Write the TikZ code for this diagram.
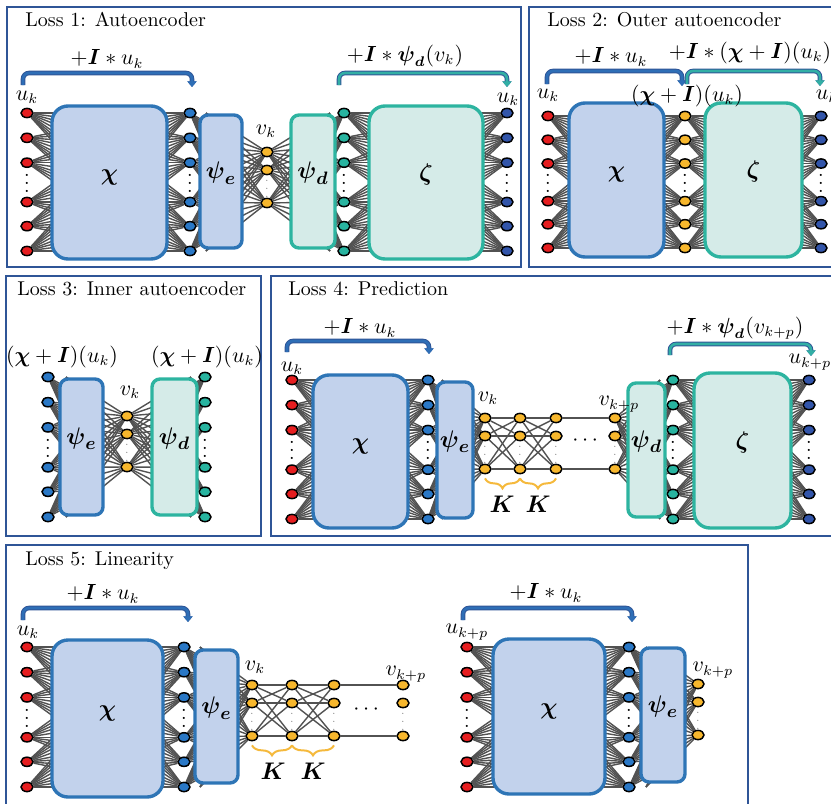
\documentclass[tikz,border=0pt]{standalone}
\usepackage{amsmath,amssymb}
\usepackage{tikz}
\usetikzlibrary{arrows.meta, positioning, calc, decorations.pathreplacing, shapes.geometric, fit}
\usepackage{xcolor}

\definecolor{redn}{RGB}{230,30,32}
\definecolor{bluen}{RGB}{42,120,198}
\definecolor{yelln}{RGB}{247,183,45}
\definecolor{tealn}{RGB}{40,180,160}
\definecolor{navyn}{RGB}{50,85,170}
\definecolor{linkc}{RGB}{82,82,82}
\definecolor{paneld}{RGB}{47,85,151}
\definecolor{encd}{RGB}{46,117,182}
\definecolor{encf}{RGB}{194,210,236}
\definecolor{decd}{RGB}{45,180,160}
\definecolor{decf}{RGB}{213,235,232}
\definecolor{skipc}{RGB}{46,110,182}
\definecolor{skipt}{RGB}{50,175,165}
\definecolor{bracec}{RGB}{245,185,60}

\pgfdeclarelayer{bg}
\pgfsetlayers{bg,main}

% six units of a wide layer, dots between the third and the fourth
\newcommand{\widecol}[5]{%
  \foreach \i/\f in {1/0,2/.18,3/.36,4/.645,5/.82,6/1}
    \node[neuron, fill=#5] (#1\i) at (#2,{#3+(#4-#3)*\f}) {};
  \node[bigdots] (#1d) at (#2,{#3+(#4-#3)*.5-5}) {$\vdots$};
}
% three units of the latent layer
\newcommand{\latcol}[3]{%
  \foreach \i/\dy in {1/0,2/18,3/51}
    \node[neuron, fill=yelln] (#1\i) at (#2,{#3+\dy}) {};
  \node[smalldots] (#1d) at (#2,{#3+31}) {$\vdots$};
}
% hidden units inside a box, where the links end
\newcommand{\hidcol}[4]{%
  \foreach \i/\f in {1/0,2/.12,3/.24,4/.36,5/.5,6/.645,7/.76,8/.88,9/1}
    \coordinate (#1\i) at (#2,{#3+(#4-#3)*\f});
}
% every link from one layer to the next
\newcommand{\links}[4]{%
  \foreach \i in {1,...,#2}
    \foreach \j in {1,...,#4}
      \draw[nlink] (#1\i) -- (#3\j);
}

\begin{document}
\begin{tikzpicture}[x=0.5pt, y=-0.5pt, font=\fontsize{10}{12}\selectfont,
  neuron/.style={ellipse, draw=black, line width=0.75pt, minimum width=6pt, minimum height=4.6pt, inner sep=0pt},
  bigdots/.style={inner sep=0pt, font=\fontsize{10}{10}\selectfont},
  smalldots/.style={inner sep=0pt, text=gray, font=\fontsize{5}{5}\selectfont},
  nlink/.style={draw=linkc, line width=0.7pt},
  encbox/.style={draw=encd, fill=encf, line width=1.7pt, inner sep=0pt, font=\fontsize{13}{15}\selectfont},
  decbox/.style={draw=decd, fill=decf, line width=1.7pt, inner sep=0pt, font=\fontsize{13}{15}\selectfont},
  bigbox/.style={rounded corners=8pt},
  thinbox/.style={rounded corners=4pt},
  panel/.style={draw=paneld, line width=1pt},
  title/.style={anchor=base west, inner sep=0pt},
  lab/.style={inner sep=0pt, font=\fontsize{10.5}{12}\selectfont},
  klab/.style={inner sep=0pt, font=\fontsize{11.5}{13}\selectfont},
  skiparrow/.style={draw=skipc, line width=1.3pt, rounded corners=3pt, -{Triangle[length=2.8pt,width=4.5pt]},
    preaction={draw=paneld, line width=2.3pt, -{Triangle[length=2.8pt,width=4.5pt]}}},
  skipteal/.style={skiparrow, draw=skipt},
  kbrace/.style={decorate, decoration={brace, mirror, amplitude=5pt}, draw=bracec, line width=1pt},
]
\useasboundingbox (0,0) rectangle (831,804);
\clip (0,0) rectangle (831,804);

% Loss 1
\draw[panel] (7,7) rectangle (521,267);
\node[title] (t1) at (25,26) {Loss 1: Autoencoder};
\widecol{p1r}{27}{113}{251}{redn}
\widecol{p1b}{190}{113}{251}{bluen}
\latcol{p1y}{267}{152}
\widecol{p1t}{344}{113}{251}{tealn}
\widecol{p1n}{507}{113}{251}{navyn}
\node[encbox, bigbox, fit={(52,106) (167,259)}] (p1chi) {$\boldsymbol{\chi}$};
\node[encbox, thinbox, fit={(200,115) (242,248)}] (p1pe) {$\boldsymbol{\psi}_{\boldsymbol{e}}$};
\node[decbox, thinbox, fit={(291,115) (335,248)}] (p1pd) {$\boldsymbol{\psi}_{\boldsymbol{d}}$};
\node[decbox, bigbox, fit={(369,106) (483,259)}] (p1zeta) {$\boldsymbol{\zeta}$};
\node[lab] (p1uin) at (27,97) {$u_k$};
\node[lab] (p1v) at (266,131) {$v_k$};
\node[lab] (p1uout) at (508,99) {$u_k$};
\coordinate (p1sa) at (23,85);
\coordinate (p1sb) at (192,87);
\coordinate (p1sc) at (339,85);
\coordinate (p1sd) at (507,87);
\draw[skiparrow] (p1sa) -- ++(0,-12) -| (p1sb);
\draw[skipteal] (p1sc) -- ++(0,-12) -| (p1sd);
\node[lab] (p1ska) at (107,59) {$+\boldsymbol{I} * u_k$};
\node[lab] (p1skb) at (405,56) {$+\boldsymbol{I} * \boldsymbol{\psi}_{\boldsymbol{d}}(v_k)$};

% Loss 2
\draw[panel] (529,7) rectangle (845,267);
\node[title] (t2) at (547,26) {Loss 2: Outer autoencoder};
\widecol{p2r}{548}{116}{248}{redn}
\widecol{p2y}{685}{116}{248}{yelln}
\widecol{p2n}{821}{116}{248}{navyn}
\node[encbox, bigbox, fit={(569,103) (664,257)}] (p2chi) {$\boldsymbol{\chi}$};
\node[decbox, bigbox, fit={(705,103) (802,257)}] (p2zeta) {$\boldsymbol{\zeta}$};
\node[lab] (p2uin) at (548,95) {$u_k$};
\node[lab] (p2mid) at (687,96) {$(\boldsymbol{\chi}+\boldsymbol{I})(u_k)$};
\node[lab] (p2uout) at (827,96) {$u_k$};
\coordinate (p2sa) at (547,84);
\coordinate (p2sb) at (682,86);
\coordinate (p2sc) at (687,84);
\coordinate (p2sd) at (820,86);
\draw[skiparrow] (p2sa) -- ++(0,-13) -| (p2sb);
\draw[skipteal] (p2sc) -- ++(0,-13) -| (p2sd);
\node[lab] (p2ska) at (611,57) {$+\boldsymbol{I} * u_k$};
\node[lab] (p2skb) at (750,53) {$+\boldsymbol{I} * (\boldsymbol{\chi}+\boldsymbol{I})(u_k)$};

% Loss 3
\draw[panel] (6,276) rectangle (261,536);
\node[title] (t3) at (17,295) {Loss 3: Inner autoencoder};
\widecol{p3b}{48}{377}{517}{bluen}
\latcol{p3y}{127}{416}
\widecol{p3t}{205}{377}{517}{tealn}
\node[encbox, thinbox, fit={(60,379) (103,515)}] (p3pe) {$\boldsymbol{\psi}_{\boldsymbol{e}}$};
\node[decbox, thinbox, fit={(152,379) (197,515)}] (p3pd) {$\boldsymbol{\psi}_{\boldsymbol{d}}$};
\node[lab] (p3in) at (62,357) {$(\boldsymbol{\chi}+\boldsymbol{I})(u_k)$};
\node[lab] (p3out) at (207,357) {$(\boldsymbol{\chi}+\boldsymbol{I})(u_k)$};
\node[lab] (p3v) at (130,392) {$v_k$};

% Loss 4
\draw[panel] (271,276) rectangle (845,536);
\node[title] (t4) at (288,295) {Loss 4: Prediction};
\widecol{p4r}{292}{380}{519}{redn}
\widecol{p4b}{428}{380}{519}{bluen}
\latcol{p4ya}{485}{418}
\latcol{p4yb}{520}{418}
\latcol{p4yc}{556}{418}
\latcol{p4yd}{615}{418}
\widecol{p4t}{673}{380}{519}{tealn}
\widecol{p4n}{809}{380}{519}{navyn}
\node[encbox, bigbox, fit={(313,375) (408,528)}] (p4chi) {$\boldsymbol{\chi}$};
\node[encbox, thinbox, fit={(437,382) (473,518)}] (p4pe) {$\boldsymbol{\psi}_{\boldsymbol{e}}$};
\node[decbox, thinbox, fit={(628,383) (665,517)}] (p4pd) {$\boldsymbol{\psi}_{\boldsymbol{d}}$};
\node[decbox, bigbox, fit={(694,373) (791,528)}] (p4zeta) {$\boldsymbol{\zeta}$};
\node[lab] (p4uin) at (292,368) {$u_k$};
\node[lab] (p4v) at (488,398) {$v_k$};
\node[lab] (p4vp) at (619,404) {$v_{k+p}$};
\node[lab] (p4uout) at (810,362) {$u_{k+p}$};
\node[lab] (p4gap) at (587,441) {$\cdots$};
\draw[kbrace] ([yshift=-2pt]p4ya3.south) -- ([yshift=-2pt]p4yb3.south);
\draw[kbrace] ([yshift=-2pt]p4yb3.south) -- ([yshift=-2pt]p4yc3.south);
\node[klab] (p4ka) at (502,504) {$\boldsymbol{K}$};
\node[klab] (p4kb) at (538,504) {$\boldsymbol{K}$};
\coordinate (p4sa) at (287,352);
\coordinate (p4sb) at (429,354);
\coordinate (p4sc) at (670,355);
\coordinate (p4sd) at (811,356);
\draw[skiparrow] (p4sa) -- ++(0,-11) -| (p4sb);
\draw[skipteal] (p4sc) -- ++(0,-11) -| (p4sd);
\node[lab] (p4ska) at (360,328) {$+\boldsymbol{I} * u_k$};
\node[lab] (p4skb) at (735,328) {$+\boldsymbol{I} * \boldsymbol{\psi}_{\boldsymbol{d}}(v_{k+p})$};

% Loss 5
\draw[panel] (6,545) rectangle (748,820);
\node[title] (t5) at (25,565) {Loss 5: Linearity};
\widecol{p5r}{27}{647}{787}{redn}
\widecol{p5b}{184}{647}{787}{bluen}
\latcol{p5ya}{252}{685}
\latcol{p5yb}{292}{685}
\latcol{p5yc}{334}{685}
\latcol{p5yd}{403}{685}
\node[encbox, bigbox, fit={(52,640) (163,797)}] (p5chi) {$\boldsymbol{\chi}$};
\node[encbox, thinbox, fit={(195,650) (238,783)}] (p5pe) {$\boldsymbol{\psi}_{\boldsymbol{e}}$};
\node[lab] (p5uin) at (28,632) {$u_k$};
\node[lab] (p5v) at (255,667) {$v_k$};
\node[lab] (p5vp) at (406,674) {$v_{k+p}$};
\node[lab] (p5gap) at (368,710) {$\cdots$};
\draw[kbrace] ([yshift=-2pt]p5ya3.south) -- ([yshift=-2pt]p5yb3.south);
\draw[kbrace] ([yshift=-2pt]p5yb3.south) -- ([yshift=-2pt]p5yc3.south);
\node[klab] (p5ka) at (273,771) {$\boldsymbol{K}$};
\node[klab] (p5kb) at (313,771) {$\boldsymbol{K}$};
\coordinate (p5sa) at (23,620);
\coordinate (p5sb) at (188,622);
\draw[skiparrow] (p5sa) -- ++(0,-12) -| (p5sb);
\node[lab] (p5ska) at (103,594) {$+\boldsymbol{I} * u_k$};

\widecol{p5s}{467}{647}{787}{redn}
\widecol{p5c}{629}{647}{787}{bluen}
\latcol{p5ye}{698}{684}
\node[encbox, bigbox, fit={(493,639) (605,794)}] (p5chib) {$\boldsymbol{\chi}$};
\node[encbox, thinbox, fit={(641,648) (685,782)}] (p5peb) {$\boldsymbol{\psi}_{\boldsymbol{e}}$};
\node[lab] (p5uinb) at (467,632) {$u_{k+p}$};
\node[lab] (p5vb) at (713,670) {$v_{k+p}$};
\coordinate (p5sc) at (463,620);
\coordinate (p5sd) at (632,622);
\draw[skiparrow] (p5sc) -- ++(0,-12) -| (p5sd);
\node[lab] (p5skb) at (546,593) {$+\boldsymbol{I} * u_k$};

% links, under the boxes
\begin{pgfonlayer}{bg}
\hidcol{p1ha}{152}{113}{251} \links{p1r}{6}{p1ha}{9}
\hidcol{p1hb}{75}{113}{251} \links{p1b}{6}{p1hb}{9}
\hidcol{p1hc}{237}{140}{225} \links{p1b}{6}{p1hc}{9}
\hidcol{p1hd}{206}{113}{251} \links{p1y}{3}{p1hd}{9}
\hidcol{p1he}{330}{113}{251} \links{p1y}{3}{p1he}{9}
\hidcol{p1hf}{296}{140}{225} \links{p1t}{6}{p1hf}{9}
\hidcol{p1hg}{469}{113}{251} \links{p1t}{6}{p1hg}{9}
\hidcol{p1hh}{387}{113}{251} \links{p1n}{6}{p1hh}{9}

\hidcol{p2ha}{653}{116}{248} \links{p2r}{6}{p2ha}{9}
\hidcol{p2hb}{580}{116}{248} \links{p2y}{6}{p2hb}{9}
\hidcol{p2hc}{785}{116}{248} \links{p2y}{6}{p2hc}{9}
\hidcol{p2hd}{726}{116}{248} \links{p2n}{6}{p2hd}{9}

\hidcol{p3ha}{98}{405}{490} \links{p3b}{6}{p3ha}{9}
\hidcol{p3hb}{66}{377}{517} \links{p3y}{3}{p3hb}{9}
\hidcol{p3hc}{191}{377}{517} \links{p3y}{3}{p3hc}{9}
\hidcol{p3hd}{157}{405}{490} \links{p3t}{6}{p3hd}{9}

\hidcol{p4ha}{397}{380}{519} \links{p4r}{6}{p4ha}{9}
\hidcol{p4hb}{328}{380}{519} \links{p4b}{6}{p4hb}{9}
\hidcol{p4hc}{468}{405}{495} \links{p4b}{6}{p4hc}{9}
\hidcol{p4hd}{442}{380}{519} \links{p4ya}{3}{p4hd}{9}
\links{p4ya}{3}{p4yb}{3}
\links{p4yb}{3}{p4yc}{3}
\draw[nlink] (p4yc1) -- (p4yd1);
\draw[nlink] (p4yc3) -- (p4yd3);
\hidcol{p4he}{660}{380}{519} \links{p4yd}{3}{p4he}{9}
\hidcol{p4hf}{633}{405}{495} \links{p4t}{6}{p4hf}{9}
\hidcol{p4hg}{778}{380}{519} \links{p4t}{6}{p4hg}{9}
\hidcol{p4hh}{719}{380}{519} \links{p4n}{6}{p4hh}{9}

\hidcol{p5ha}{152}{647}{787} \links{p5r}{6}{p5ha}{9}
\hidcol{p5hb}{79}{647}{787} \links{p5b}{6}{p5hb}{9}
\hidcol{p5hc}{233}{675}{760} \links{p5b}{6}{p5hc}{9}
\hidcol{p5hd}{200}{647}{787} \links{p5ya}{3}{p5hd}{9}
\links{p5ya}{3}{p5yb}{3}
\links{p5yb}{3}{p5yc}{3}
\draw[nlink] (p5yc1) -- (p5yd1);
\draw[nlink] (p5yc3) -- (p5yd3);
\hidcol{p5he}{597}{647}{787} \links{p5s}{6}{p5he}{9}
\hidcol{p5hf}{509}{647}{787} \links{p5c}{6}{p5hf}{9}
\hidcol{p5hg}{680}{675}{760} \links{p5c}{6}{p5hg}{9}
\hidcol{p5hh}{646}{647}{787} \links{p5ye}{3}{p5hh}{9}
\end{pgfonlayer}
\end{tikzpicture}
\end{document}
